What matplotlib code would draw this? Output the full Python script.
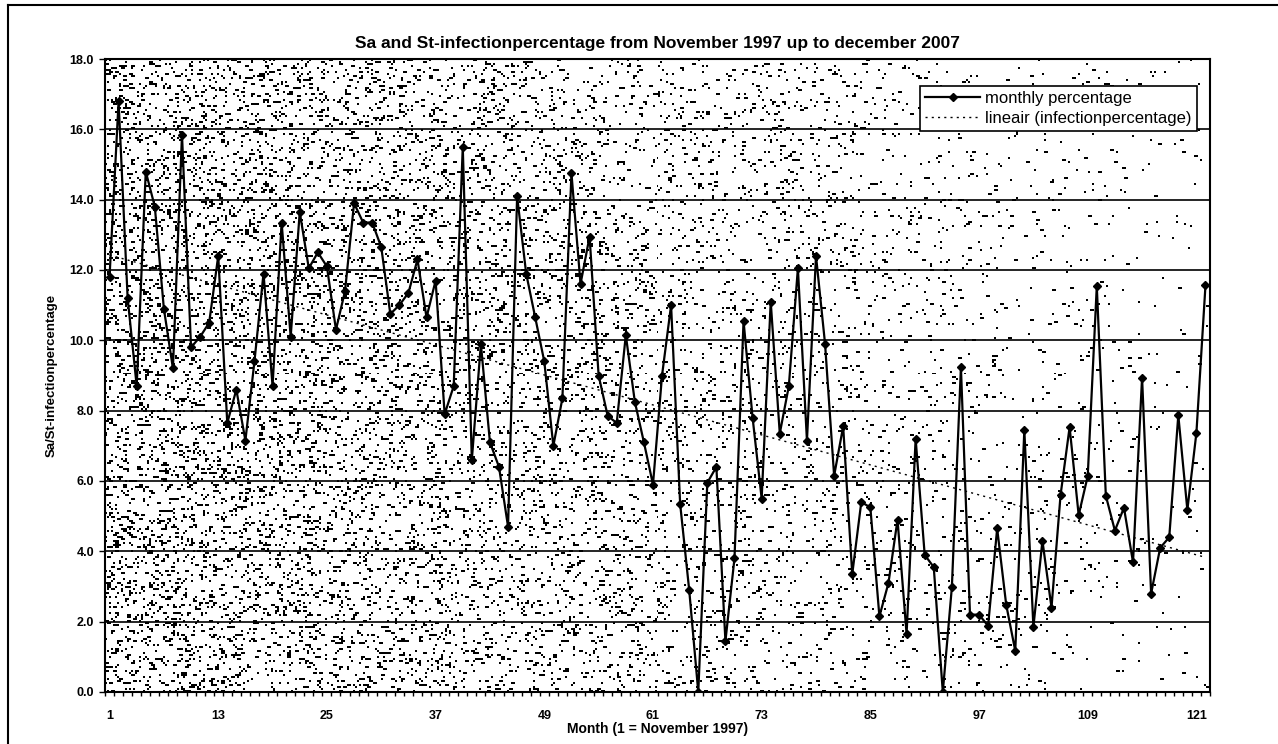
import numpy as np
import matplotlib
matplotlib.use('Agg')
import matplotlib.pyplot as plt
from matplotlib.lines import Line2D

plt.rcParams['font.family'] = ['Liberation Sans', 'DejaVu Sans']

# monthly Sa/St infection percentage, month 1 = November 1997 ... month 122 = December 2007
monthly_pct = [
    11.8, 16.8, 11.2, 8.7, 14.8, 13.8, 10.9, 9.2, 15.85, 9.8,
    10.1, 10.5, 12.4, 7.65, 8.6, 7.15, 9.4, 11.9, 8.7, 13.35,
    10.1, 13.65, 12.05, 12.5, 12.1, 10.3, 11.4, 13.9, 13.35, 13.35,
    12.65, 10.75, 11.0, 11.35, 12.3, 10.65, 11.7, 7.9, 8.7, 15.5,
    6.6, 9.9, 7.1, 6.4, 4.7, 14.1, 11.9, 10.65, 9.4, 7.0,
    8.35, 14.75, 11.6, 12.95, 9.0, 7.85, 7.65, 10.15, 8.25, 7.1,
    5.9, 9.0, 11.0, 5.35, 2.9, 0.0, 5.95, 6.4, 1.45, 3.8,
    10.55, 7.8, 5.5, 11.1, 7.35, 8.7, 12.05, 7.15, 12.4, 9.9,
    6.15, 7.55, 3.35, 5.4, 5.25, 2.15, 3.1, 4.9, 1.65, 7.2,
    3.9, 3.55, 0.0, 2.98, 9.24, 2.2, 2.2, 1.88, 4.65, 2.48,
    1.17, 7.45, 1.85, 4.3, 2.4, 5.6, 7.53, 5.03, 6.14, 11.54,
    5.58, 4.59, 5.24, 3.69, 8.94, 2.8, 4.1, 4.4, 7.87, 5.18,
    7.37, 11.56,
]
months = np.arange(1, len(monthly_pct) + 1)
xtick_months = [1, 13, 25, 37, 49, 61, 73, 85, 97, 109, 121]
ytick_vals = [0, 2, 4, 6, 8, 10, 12, 14, 16, 18]

fig = plt.figure(figsize=(12.78, 7.44), dpi=100)
W_PX, H_PX = 1278, 744
ax = fig.add_axes([105 / W_PX, 1 - 692 / H_PX, (1210 - 105) / W_PX, (692 - 59) / H_PX])

# speckled plot-area fill (denser on the left, fading to the right)
th, tw = 317, 553
jj, ii = np.meshgrid(np.arange(tw), np.arange(th))
noise = (np.sin(jj * 12.9898 + ii * 78.233) * 43758.5453) % 1.0
noise2 = (np.sin(jj * 39.3468 + ii * 11.135) * 24634.6345) % 1.0
xf = jj / tw
dens = 0.13 * (1 - xf) ** 1.2 + 0.007
dots = noise < dens
dots = dots | (np.roll(dots, 1, axis=1) & (noise2 < 0.3))
tex = np.where(dots, 0.0, 1.0)
ax.imshow(tex, cmap='gray', vmin=0, vmax=1, interpolation='nearest',
          extent=(0.5, len(months) + 0.5, 0, 18), aspect='auto', zorder=0)

for yv in ytick_vals[1:-1]:
    ax.axhline(yv, color='black', lw=1.2, zorder=1)

# linear trend
coef = np.polyfit(months, monthly_pct, 1)
trend = np.polyval(coef, months)

ax.plot(months, monthly_pct, color='black', lw=1.6, marker='D', markersize=4.5,
        markerfacecolor='black', markeredgecolor='black', zorder=3,
        label='monthly percentage')
ax.plot(months, trend, color='black', lw=1.0, linestyle=(0, (1.5, 3)), zorder=2,
        label='lineair (infectionpercentage)')

ax.set_xlim(0.5, len(months) + 0.5)
ax.set_ylim(0, 18)
ax.set_yticks(ytick_vals)
ax.set_yticklabels(['%.1f' % v for v in ytick_vals], fontsize=9, fontweight='bold')
ax.set_xticks(xtick_months)
ax.set_xticklabels([str(m) for m in xtick_months], fontsize=9, fontweight='bold')
ax.set_xticks(np.arange(0.5, len(months) + 1, 1), minor=True)
ax.tick_params(axis='x', which='major', length=0, pad=13)
ax.tick_params(axis='x', which='minor', length=3, width=1, direction='out')
ax.tick_params(axis='y', which='major', length=4, width=1, direction='out', pad=4)
for s in ax.spines.values():
    s.set_linewidth(1.5)
    s.set_color('black')

ax.set_title('Sa and St-infectionpercentage from November 1997 up to december 2007',
             fontsize=12.5, fontweight='bold', pad=8)
ax.set_ylabel('Sa/St-infectionpercentage', fontsize=9.5, fontweight='bold', labelpad=8)
ax.set_xlabel('Month (1 = November 1997)', fontsize=10, fontweight='bold', labelpad=0)

leg = ax.legend(loc='upper right', bbox_to_anchor=(0.988, 0.958), fontsize=12,
                frameon=True, fancybox=False, framealpha=1, edgecolor='black',
                handlelength=3.3, handletextpad=0.3, borderpad=0.3, labelspacing=0.3,
                borderaxespad=0)
leg.get_frame().set_linewidth(1.2)
leg.set_zorder(5)

# chart area border (left and top edges visible)
fig.add_artist(Line2D([8 / W_PX, 8 / W_PX], [0, 1 - 5 / H_PX], transform=fig.transFigure,
                      color='black', lw=1.5))
fig.add_artist(Line2D([8 / W_PX, 1], [1 - 5 / H_PX, 1 - 5 / H_PX], transform=fig.transFigure,
                      color='black', lw=1.5))

fig.savefig('out.png', dpi=100, facecolor='white')
